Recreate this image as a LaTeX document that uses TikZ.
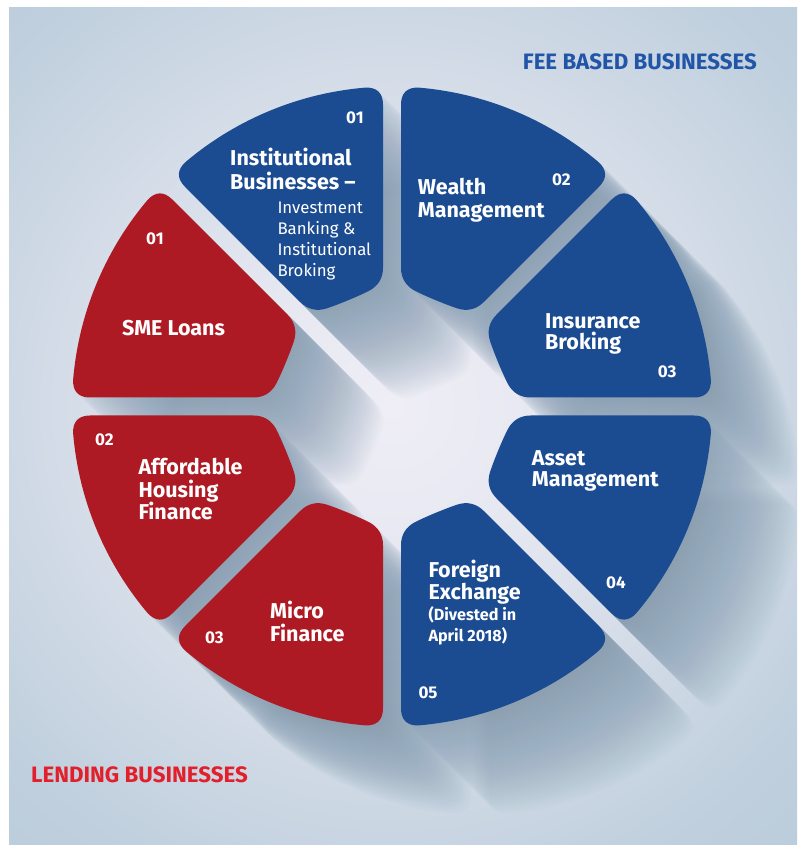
\documentclass[tikz,border=0pt]{standalone}
\usepackage{fontspec}
\setmainfont{Fira Sans}
\definecolor{segblue}{HTML}{1B4B91}
\definecolor{segred}{HTML}{AE1A24}
\definecolor{titleblue}{HTML}{2155A8}
\definecolor{titlered}{HTML}{E2202B}
\definecolor{shadowc}{HTML}{7D97AE}
\definecolor{bgA}{HTML}{EFEEF6}
\definecolor{bgB}{HTML}{E5E7F0}
\definecolor{bgC}{HTML}{BFCFDD}
\definecolor{bgD}{HTML}{A9C0D4}
\pgfdeclareradialshading{bgshade}{\pgfpoint{0bp}{0bp}}{color(0bp)=(bgA); color(7bp)=(bgB); color(21bp)=(bgC); color(38bp)=(bgD); color(50bp)=(bgD)}
\newcommand\ringseg[1]{%
 ({#1+3.713}:138.96) -- ({#1+1.708}:302.0)
 .. controls ({#1+1.644}:313.70) and ({#1+2.740}:319.89) .. ({#1+4.834}:320)
 arc[start angle={#1+4.834}, end angle={#1+40.166}, radius=320pt]
 .. controls ({#1+42.260}:319.89) and ({#1+43.356}:313.70) .. ({#1+43.292}:302.0)
 -- ({#1+41.287}:138.96)
 .. controls ({#1+40.987}:128.59) and ({#1+38.354}:120.97) .. ({#1+33.595}:117.83)
 .. controls ({#1+27.58}:115.18) and ({#1+17.42}:115.18) .. ({#1+11.405}:117.83)
 .. controls ({#1+6.646}:120.97) and ({#1+4.013}:128.59) .. ({#1+3.713}:138.96) -- cycle }
\tikzset{
 lbl/.style={anchor=base west, inner sep=0pt, text=white, font=\fontsize{21.5}{25}\selectfont\bfseries},
 sml/.style={anchor=base west, inner sep=0pt, text=white, font=\fontsize{16.8}{20}\selectfont},
 num/.style={anchor=base west, inner sep=0pt, text=white, font=\fontsize{17}{20}\selectfont\bfseries},
 sub/.style={anchor=base west, inner sep=0pt, text=white, font=\fontsize{16.2}{19}\selectfont\bfseries},
 ttl/.style={anchor=base west, inner sep=0pt, font=\fontsize{22.3}{26}\selectfont\bfseries}
}
\begin{document}
\begin{tikzpicture}[x=1pt,y=1pt]
\useasboundingbox (0,0) rectangle (803,849);
\fill[white] (0,0) rectangle (803,849);
\begin{scope}
\clip (9,4) rectangle (797,841);
\shade[shading=bgshade] (392,442.5) circle (620pt);
\foreach \t in {1,...,40}{
 \fill[shadowc, fill opacity=0.032, shift={({392+2.2*\t},{442.5-2.2*\t})}]
  \ringseg{0} \ringseg{45} \ringseg{90} \ringseg{135}
  \ringseg{180} \ringseg{225} \ringseg{270} \ringseg{315};
}
\end{scope}
\begin{scope}[shift={(392,442.5)}]
\fill[segblue] \ringseg{0};
\fill[segblue] \ringseg{45};
\fill[segblue] \ringseg{90};
\fill[segred] \ringseg{135};
\fill[segred] \ringseg{180};
\fill[segred] \ringseg{225};
\fill[segblue] \ringseg{270};
\fill[segblue] \ringseg{315};
\end{scope}
% Institutional
\node[num] (ib0) at (346,725.7) {01};
\node[lbl] (ib1) at (230,683) {Institutional};
\node[lbl] (ib2) at (230,659.7) {Businesses –};
\node[sml] (ib3) at (277.3,635.7) {Investment};
\node[sml] (ib4) at (277.3,614.7) {Banking \&};
\node[sml] (ib5) at (277.3,593.3) {Institutional};
\node[sml] (ib6) at (277.3,572.5) {Broking};
% Wealth
\node[lbl] (wm1) at (417.7,654.7) {Wealth};
\node[lbl] (wm2) at (417.7,631.7) {Management};
\node[num] (wm0) at (552,663) {02};
% SME
\node[num] (sm0) at (146,604.7) {01};
\node[lbl] (sm1) at (122,513.3) {SME Loans};
% Insurance
\node[lbl] (in1) at (545,520.7) {Insurance};
\node[lbl] (in2) at (545,499) {Broking};
\node[num] (in0) at (657.7,471.7) {03};
% Affordable
\node[num] (af0) at (95,403.3) {02};
\node[lbl] (af1) at (138.3,374) {Affordable};
\node[lbl] (af2) at (138.3,351.7) {Housing};
\node[lbl] (af3) at (138.3,329) {Finance};
% Asset
\node[lbl] (am1) at (531.7,383.3) {Asset};
\node[lbl] (am2) at (531.7,362.3) {Management};
\node[num] (am0) at (606,260) {04};
% Micro
\node[lbl] (mf1) at (270,230.7) {Micro};
\node[lbl] (mf2) at (270,207.3) {Finance};
\node[num] (mf0) at (205,205.7) {03};
% Foreign exchange
\node[lbl] (fx1) at (428.3,271.7) {Foreign};
\node[lbl] (fx2) at (428.3,249) {Exchange};
\node[sub] (fx3) at (428.3,228.3) {(Divested in};
\node[sub] (fx4) at (428.3,207.3) {April 2018)};
\node[num] (fx0) at (418.3,150) {05};
% titles
\node[ttl, text=titleblue] (fee) at (522.7,779) {FEE BASED BUSINESSES};
\node[ttl, text=titlered] (lend) at (31,66.7) {LENDING BUSINESSES};
\end{tikzpicture}
\end{document}
